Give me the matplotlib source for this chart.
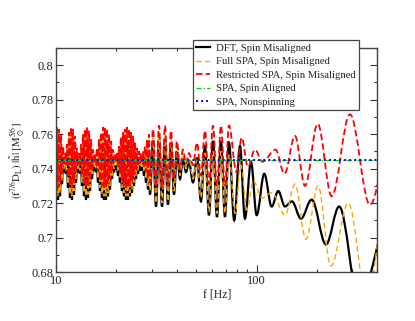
import numpy as np
import matplotlib
matplotlib.use("Agg")
import matplotlib.pyplot as plt
from matplotlib.path import Path
from matplotlib.patches import PathPatch
from matplotlib.lines import Line2D
from matplotlib.ticker import MultipleLocator, FuncFormatter, NullFormatter, LogLocator

plt.rcParams.update({
    "font.family": "serif",
    "font.serif": ["Liberation Serif", "DejaVu Serif"],
    "mathtext.fontset": "stix",
})

# ---- data (extrema) ----
# low-frequency, densely oscillating part (shared extremum frequencies)
f_low = [10.000, 10.115, 10.232, 10.350, 10.470, 10.591, 10.713, 10.836, 10.961, 11.088,
         11.216, 11.345, 11.476, 11.609, 11.743, 11.878, 12.015, 12.154, 12.294, 12.436,
         12.579, 12.724, 12.871, 13.020, 13.170, 13.322, 13.475, 13.631, 13.788, 13.947,
         14.108, 14.271, 14.436, 14.602, 14.771, 14.941, 15.113, 15.288, 15.464, 15.643,
         15.823, 16.006, 16.190, 16.377, 16.566, 16.757, 16.951, 17.146, 17.344, 17.544,
         17.746, 17.951, 18.158, 18.368, 18.579, 18.794, 19.011, 19.230, 19.452, 19.677,
         19.903, 20.133, 20.365, 20.600, 20.838, 21.078, 21.321, 21.567, 21.816, 22.068,
         22.322, 22.580, 22.840, 23.104, 23.371, 23.640, 23.913, 24.189, 24.468, 24.751,
         25.035, 25.324, 25.616, 25.912, 26.211, 26.513, 26.819, 27.129, 27.442, 27.759,
         28.078, 28.402, 28.730, 29.061, 29.396]

dft_low = [0.723, 0.755, 0.722, 0.754, 0.724, 0.751, 0.731, 0.745, 0.738, 0.741,
           0.737, 0.746, 0.729, 0.752, 0.723, 0.755, 0.722, 0.754, 0.725, 0.750,
           0.732, 0.744, 0.738, 0.741, 0.737, 0.746, 0.730, 0.751, 0.724, 0.754,
           0.722, 0.755, 0.723, 0.753, 0.727, 0.749, 0.734, 0.743, 0.739, 0.741,
           0.738, 0.745, 0.732, 0.749, 0.727, 0.753, 0.723, 0.755, 0.722, 0.755,
           0.722, 0.754, 0.724, 0.752, 0.728, 0.748, 0.734, 0.744, 0.738, 0.741,
           0.740, 0.742, 0.736, 0.745, 0.732, 0.749, 0.727, 0.753, 0.724, 0.755,
           0.722, 0.755, 0.722, 0.754, 0.724, 0.753, 0.726, 0.750, 0.730, 0.747,
           0.734, 0.744, 0.737, 0.742, 0.739, 0.742, 0.739, 0.743, 0.736, 0.745,
           0.732, 0.749, 0.728, 0.751, 0.725]

full_low = [0.725, 0.761, 0.724, 0.760, 0.726, 0.757, 0.733, 0.750, 0.740, 0.747,
            0.739, 0.752, 0.731, 0.758, 0.725, 0.761, 0.724, 0.760, 0.727, 0.756,
            0.734, 0.749, 0.740, 0.747, 0.739, 0.751, 0.732, 0.757, 0.726, 0.760,
            0.724, 0.761, 0.725, 0.759, 0.729, 0.754, 0.736, 0.749, 0.741, 0.747,
            0.740, 0.750, 0.734, 0.755, 0.729, 0.758, 0.725, 0.761, 0.724, 0.761,
            0.724, 0.760, 0.726, 0.758, 0.730, 0.753, 0.736, 0.749, 0.740, 0.747,
            0.742, 0.747, 0.738, 0.751, 0.734, 0.755, 0.729, 0.758, 0.726, 0.760,
            0.724, 0.761, 0.724, 0.760, 0.726, 0.759, 0.728, 0.756, 0.732, 0.753,
            0.736, 0.750, 0.739, 0.747, 0.741, 0.747, 0.741, 0.748, 0.738, 0.751,
            0.734, 0.754, 0.730, 0.757, 0.727]

restr_low = [0.730, 0.764, 0.729, 0.763, 0.731, 0.760, 0.737, 0.753, 0.742, 0.749,
             0.742, 0.754, 0.735, 0.761, 0.730, 0.764, 0.729, 0.763, 0.732, 0.759,
             0.738, 0.752, 0.743, 0.749, 0.742, 0.754, 0.736, 0.760, 0.731, 0.763,
             0.729, 0.764, 0.730, 0.762, 0.733, 0.757, 0.739, 0.751, 0.743, 0.749,
             0.742, 0.752, 0.738, 0.757, 0.733, 0.761, 0.730, 0.764, 0.729, 0.764,
             0.729, 0.763, 0.731, 0.760, 0.734, 0.756, 0.739, 0.751, 0.743, 0.749,
             0.744, 0.749, 0.741, 0.753, 0.737, 0.758, 0.733, 0.761, 0.730, 0.763,
             0.729, 0.764, 0.729, 0.763, 0.730, 0.761, 0.733, 0.759, 0.736, 0.755,
             0.739, 0.752, 0.742, 0.750, 0.743, 0.749, 0.743, 0.750, 0.741, 0.753,
             0.738, 0.757, 0.734, 0.760, 0.732]

# mid-frequency part (shared extremum frequencies)
f_mid = [30.44, 31.51, 32.61, 33.75, 34.93, 36.15, 37.42, 38.73, 40.08, 41.49,
         42.94, 44.44, 46.00,
         48.16, 50.42, 52.78, 55.26, 57.85, 60.57, 63.41, 66.39, 69.50, 72.77]
dft_mid = [0.756, 0.718, 0.757, 0.718, 0.757, 0.719, 0.755, 0.725, 0.750, 0.734,
           0.746, 0.738, 0.744,
           0.732, 0.746, 0.721, 0.753, 0.713, 0.756, 0.712, 0.756, 0.712, 0.755]
full_mid = [0.758, 0.720, 0.759, 0.720, 0.759, 0.721, 0.757, 0.727, 0.752, 0.736,
            0.748, 0.740, 0.746,
            0.734, 0.745, 0.723, 0.749, 0.715, 0.750, 0.714, 0.750, 0.714, 0.748]
restr_mid = [0.763, 0.729, 0.765, 0.729, 0.765, 0.730, 0.762, 0.734, 0.756, 0.740,
             0.751, 0.743, 0.749,
             0.742, 0.755, 0.736, 0.762, 0.731, 0.765, 0.730, 0.765, 0.730, 0.765]

# high-frequency part (each curve its own extrema)
f_dft_tail = [77.3, 82.6, 87.4, 93.7, 100.0, 109.1, 118.8, 128.1, 138.4, 149.9,
              166.2, 187.9, 221.5, 257.7, 323.4, 461.6]
dft_tail = [0.710, 0.753, 0.711, 0.744, 0.713, 0.737, 0.718, 0.727, 0.718, 0.721,
            0.711, 0.722, 0.696, 0.718, 0.664, 0.712]

f_full_tail = [78.0, 83.5, 89.5, 96.2, 106.3, 119.2, 138.4, 155.2, 176.1, 202.1,
               234.5, 286.0, 354.5, 435.9]
full_tail = [0.714, 0.742, 0.716, 0.733, 0.723, 0.726, 0.713, 0.731, 0.699, 0.730,
             0.6835, 0.720, 0.665, 0.715]

f_restr_tail = [79.3, 84.2, 90.5, 98.1, 106.9, 124.1, 137.6, 155.2, 174.1, 201.4,
                236.4, 291.6, 366.9, 488.8]
restr_tail = [0.738, 0.758, 0.741, 0.751, 0.744, 0.751, 0.737, 0.759, 0.730, 0.766,
              0.724, 0.7715, 0.719, 0.775]

f_flat = [10.0, 400.0]
spa_aligned = [0.745, 0.745]
spa_nonspin = [0.745, 0.745]

labels = ["DFT, Spin Misaligned", "Full SPA, Spin Misaligned",
          "Restricted SPA, Spin Misaligned", "SPA, Spin Aligned", "SPA, Nonspinning"]

# ---- figure ----
fig = plt.figure(figsize=(4.15, 3.21), dpi=100)
ax = fig.add_axes([0.1349, 0.1526, 0.7747, 0.6979])
ax.set_xscale("log")


def smooth_path(f, v):
    lf = np.log10(f)
    verts = [(f[0], v[0])]
    codes = [Path.MOVETO]
    for i in range(len(f) - 1):
        d = lf[i + 1] - lf[i]
        verts += [(10 ** (lf[i] + 0.36 * d), v[i]),
                  (10 ** (lf[i + 1] - 0.36 * d), v[i + 1]),
                  (f[i + 1], v[i + 1])]
        codes += [Path.CURVE4] * 3
    return Path(verts, codes)


styles = [
    dict(color="black", lw=1.6, ls="-"),
    dict(color="#ffa500", lw=1.0, ls=(0, (3.8, 2.4))),
    dict(color="#ff0000", lw=1.3, ls=(0, (3.6, 1.8))),
    dict(color="#00cc00", lw=0.9, ls=(0, (4, 1.8, 1, 1.8))),
    dict(color="#0000ff", lw=1.4, ls=(0, (1, 1.6))),
]

series = [
    (np.array(f_low + f_mid + f_dft_tail), np.array(dft_low + dft_mid + dft_tail)),
    (np.array(f_low + f_mid + f_full_tail), np.array(full_low + full_mid + full_tail)),
    (np.array(f_low + f_mid + f_restr_tail), np.array(restr_low + restr_mid + restr_tail)),
]

for k, (f, v) in enumerate(series):
    st = styles[k]
    ax.add_patch(PathPatch(smooth_path(f, v), fill=False, edgecolor=st["color"],
                           lw=st["lw"], linestyle=st["ls"], zorder=2 + k * 0.1,
                           capstyle="butt"))

ax.plot(f_flat, spa_aligned, color=styles[3]["color"], lw=styles[3]["lw"],
        ls=styles[3]["ls"], zorder=2.4)
ax.plot(f_flat, spa_nonspin, color=styles[4]["color"], lw=styles[4]["lw"],
        ls=styles[4]["ls"], zorder=2.5)

ax.set_xlim(10, 400)
ax.set_ylim(0.68, 0.81)

ax.yaxis.set_major_locator(MultipleLocator(0.02))
ax.yaxis.set_minor_locator(MultipleLocator(0.01))
ax.yaxis.set_major_formatter(FuncFormatter(lambda v, p: f"{v:g}"))
ax.xaxis.set_major_locator(LogLocator(base=10, numticks=10))
ax.xaxis.set_minor_locator(LogLocator(base=10, subs=np.arange(2, 10), numticks=10))
ax.xaxis.set_major_formatter(FuncFormatter(lambda v, p: f"{v:g}"))
ax.xaxis.set_minor_formatter(NullFormatter())

ax.tick_params(which="both", direction="in", top=True, right=True,
               colors="#333333", labelcolor="#222222", labelsize=9)
ax.tick_params(which="major", length=5, width=0.8, pad=2)
ax.tick_params(which="minor", length=2.5, width=0.8)
for s in ax.spines.values():
    s.set_color("#444444")
    s.set_linewidth(1.0)

ax.set_xlabel("f [Hz]", fontsize=8.5, color="#222222", labelpad=1)
ax.set_ylabel(r"$(\mathrm{f}^{7/6}\mathrm{D_L})\;|\tilde{\mathrm{h}}|\;[\mathrm{M}_\odot^{5/6}]$",
              fontsize=7.8, color="#222222", labelpad=3)

handles = [Line2D([], [], color=st["color"], lw=st["lw"], ls=st["ls"]) for st in styles]
leg = ax.legend(handles, labels, loc="upper left", bbox_to_anchor=(0.464, 0.875),
                bbox_transform=fig.transFigure, fontsize=7.7, frameon=True,
                fancybox=False, edgecolor="#444444", framealpha=1, borderpad=0.3,
                labelspacing=0.38, handlelength=1.3, handletextpad=0.6,
                borderaxespad=0)
leg.get_frame().set_linewidth(0.9)
for t in leg.get_texts():
    t.set_color("#222222")

fig.savefig("out.png", dpi=100)
